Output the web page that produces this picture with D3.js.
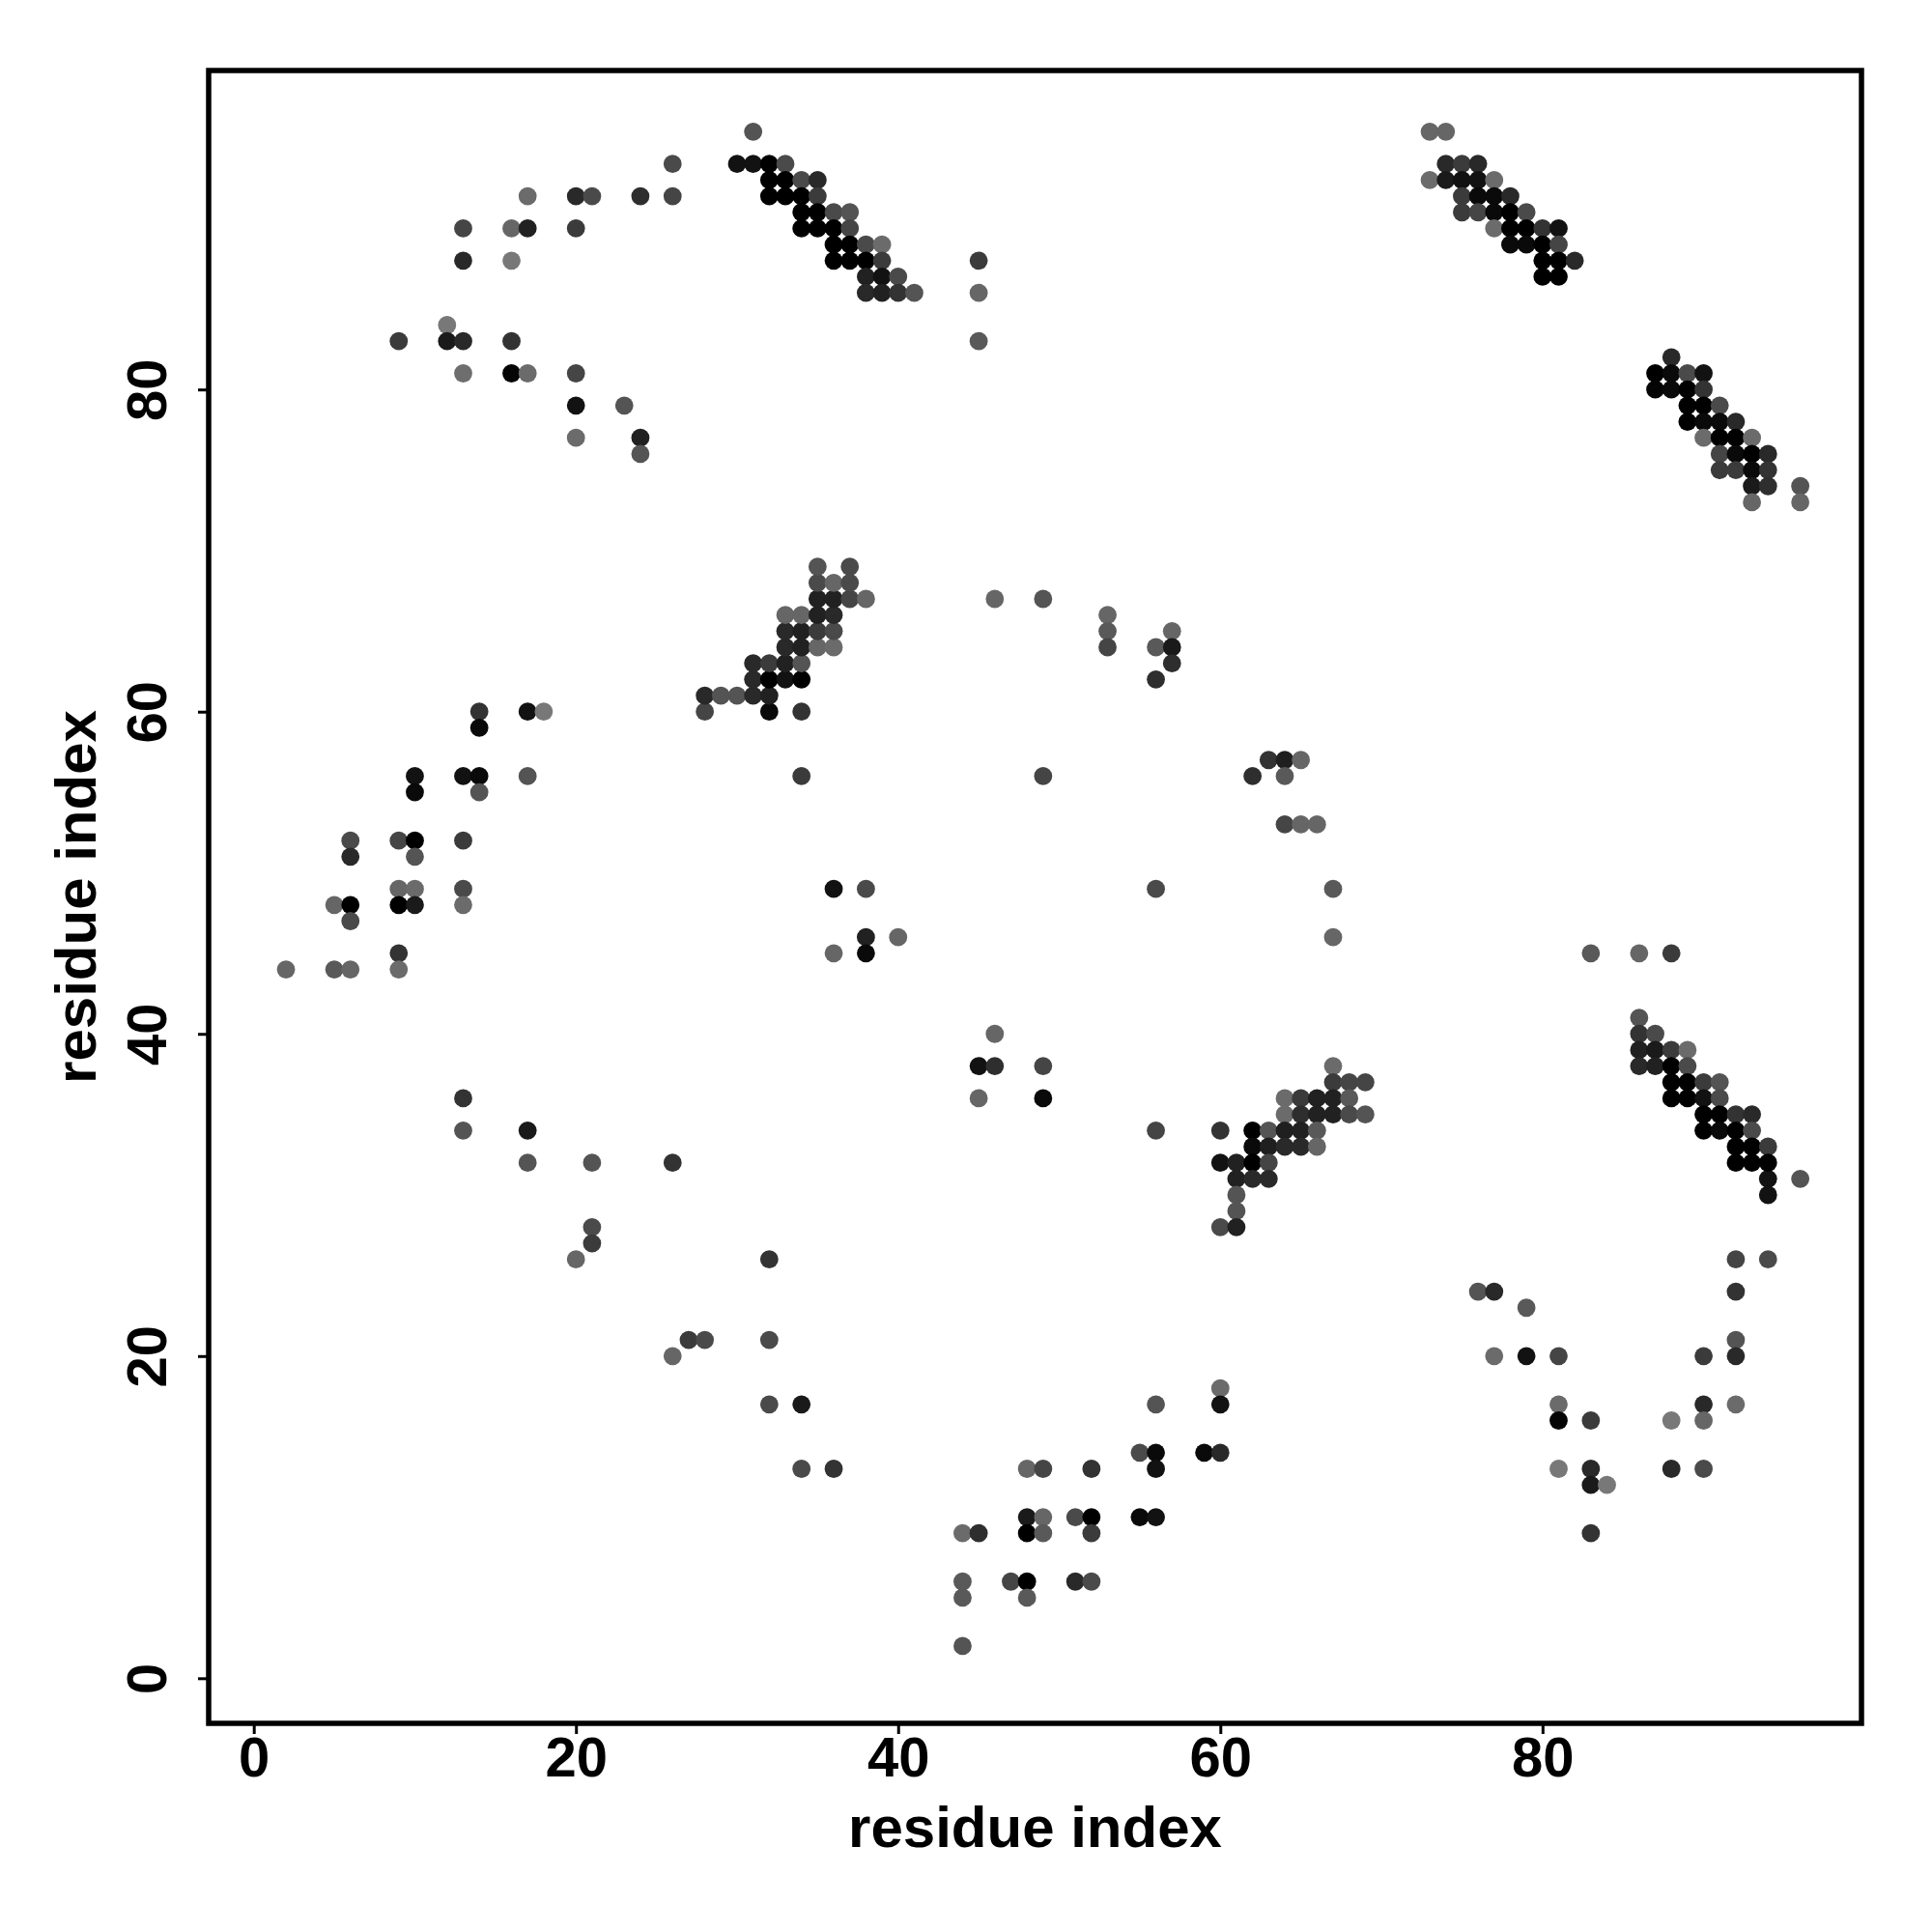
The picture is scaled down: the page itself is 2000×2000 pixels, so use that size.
<!DOCTYPE html>
<html>
<head>
<meta charset="utf-8">
<script src="https://cdn.jsdelivr.net/npm/d3@7"></script>
<style>
  html, body { margin: 0; padding: 0; background: #fff; }
  svg { display: block; }
  text { font-family: "Liberation Sans", Arial, Helvetica, sans-serif; font-weight: bold; }
</style>
</head>
<body>
<script>
// ---- data: [residue i, residue j, contact probability] ----
const topLeftArc = [
  [31,96,.67],[26,94,.71],[30,94,.93],[31,94,.93],[17,92,.58],[20,92,.84],[21,92,.71],
  [24,92,.82],[26,92,.73],[13,90,.73],[16,90,.60],[17,90,.87],[20,90,.77],[13,88,.84],
  [16,88,.53],[12,84,.53],[9,83,.77],[12,83,.90],[13,83,.84],[16,83,.80],[13,81,.57],
  [16,81,.98],[17,81,.58],[20,81,.73],[20,79,.93],[23,79,.67],[20,77,.58],[24,77,.87],
  [24,76,.67]
];
const topBand = [
  [32,94,1],[33,94,.71],
  [32,93,1],[33,93,1],[34,93,.71],[35,93,.84],
  [32,92,1],[33,92,1],[34,92,1],[35,92,.77],
  [34,91,1],[35,91,1],[36,91,.71],[37,91,.67],
  [34,90,1],[35,90,1],[36,90,1],[37,90,.73],
  [36,89,1],[37,89,1],[38,89,.71],[39,89,.58],
  [36,88,1],[37,88,1],[38,88,1],[39,88,.77],[45,88,.77],
  [38,87,.87],[39,87,.93],[40,87,.71],
  [38,86,.84],[39,86,.87],[40,86,.80],[41,86,.67],[45,86,.60],
  [45,83,.65]
];
const midBand = [
  [28,60,.73],[32,60,.96],[34,60,.80],
  [28,61,.84],[29,61,.67],[30,61,.67],[31,61,.84],[32,61,.87],
  [31,62,.84],[32,62,1],[33,62,.93],[34,62,1],
  [31,63,.84],[32,63,.77],[33,63,.87],[34,63,.67],
  [33,64,.84],[34,64,.87],[35,64,.60],[36,64,.58],
  [33,65,.84],[34,65,.87],[35,65,.77],[36,65,.71],
  [33,66,.60],[34,66,.60],[35,66,.87],[36,66,.84],
  [35,67,.87],[36,67,.87],[37,67,.73],[38,67,.60],
  [35,68,.71],[36,68,.60],[37,68,.71],
  [35,69,.67],[37,69,.71]
];
const centreScatter = [
  [46,67,.60],[49,67,.67],[53,66,.60],[53,65,.65],[53,64,.73],[56,64,.65],[57,65,.60],
  [57,64,.90],[57,63,.82],[56,62,.82],
  [34,56,.77],[49,56,.73],[62,56,.82],[63,57,.80],[64,57,.88],[65,57,.60],[64,56,.65],
  [64,53,.73],[65,53,.60],[66,53,.60],
  [36,49,.93],[38,49,.71],[56,49,.71],[67,49,.65],
  [38,46,.87],[40,46,.60],[67,46,.60],[36,45,.60],[38,45,.96],
  [83,45,.65],[86,45,.60],[88,45,.77],
  [46,40,.60],[45,38,.93],[46,38,.82],[49,38,.73],[45,36,.60],[49,36,.96],[56,34,.73]
];
const leftArc = [
  [14,60,.80],[14,59,.96],[17,60,.93],[18,60,.53],
  [10,56,.93],[10,55,.96],[13,56,.93],[14,56,.96],[14,55,.67],[17,56,.67],
  [6,52,.71],[6,51,.84],[9,52,.73],[10,52,1],[10,51,.67],[13,52,.77],
  [9,49,.60],[10,49,.58],[13,49,.71],
  [5,48,.60],[6,48,1],[6,47,.71],[9,48,1],[10,48,.90],[13,48,.58],
  [9,45,.80],
  [2,44,.60],[5,44,.65],[6,44,.60],[9,44,.58],
  [13,36,.80],[13,34,.67],[17,34,.90],[17,32,.67],[21,32,.67],[26,32,.80],
  [21,28,.71],[21,27,.77],[20,26,.60],[27,21,.77],[28,21,.71],[26,20,.60]
];
const lowerBand = [
  [67,38,.58],
  [67,37,.77],[68,37,.73],[69,37,.73],
  [64,36,.58],[65,36,.77],[66,36,.87],[67,36,.87],[68,36,.65],
  [64,35,.58],[65,35,.82],[66,35,.87],[67,35,.87],[68,35,.71],[69,35,.67],
  [60,34,.80],[62,34,1],[63,34,.67],[64,34,.88],[65,34,.87],[66,34,.65],
  [62,33,.96],[63,33,.88],[64,33,.84],[65,33,.84],[66,33,.60],
  [60,32,.93],[61,32,.87],[62,32,1],[63,32,.73],
  [61,31,.87],[62,31,.84],[63,31,.84],
  [61,30,.67],[61,29,.67],[60,28,.71],[61,28,.87]
];
const bottomArc = [
  [32,26,.80],[32,21,.71],[32,17,.71],[34,17,.90],[34,13,.71],[36,13,.80],
  [56,17,.67],[60,18,.58],[60,17,.93],[55,14,.71],[56,14,.96],[56,13,.93],[59,14,.96],[60,14,.84],
  [48,13,.60],[49,13,.73],[52,13,.80],
  [48,10,.90],[49,10,.60],[48,9,1],[49,9,.65],[51,10,.71],[52,10,1],[52,9,.77],[55,10,.96],[56,10,.93],
  [44,9,.58],[45,9,.82],[44,6,.65],[44,5,.65],[47,6,.73],[48,6,1],[48,5,.65],[51,6,.84],[52,6,.71],
  [44,2,.67]
];
const lowerRightArc = [
  [94,31,.93],[96,31,.67],[94,30,.93],
  [92,26,.73],[94,26,.71],[92,24,.80],[76,24,.67],[77,24,.84],[79,23,.65],
  [77,20,.58],[79,20,.93],[81,20,.73],[90,20,.77],[92,21,.67],[92,20,.84],
  [81,17,.58],[81,16,.98],[83,16,.77],[88,16,.53],[90,17,.84],[90,16,.60],[92,17,.58],
  [81,13,.53],[83,13,.84],[83,12,.90],[84,12,.53],[88,13,.84],[90,13,.71],[83,9,.80]
];
const rightBand = [
  [86,41,.67],[86,40,.80],[87,40,.71],
  [86,39,.87],[87,39,.90],[88,39,.77],[89,39,.58],
  [86,38,.84],[87,38,.87],[88,38,1],[89,38,.71],
  [88,37,1],[89,37,1],[90,37,.77],[91,37,.67],
  [88,36,1],[89,36,1],[90,36,.93],[91,36,.71],
  [90,35,1],[91,35,1],[92,35,.80],[93,35,.84],
  [90,34,1],[91,34,.96],[92,34,1],[93,34,.71],
  [92,33,1],[93,33,1],[94,33,.77],
  [92,32,1],[93,32,1],[94,32,1]
];
const topRightBand = [
  [73,96,.60],[74,96,.60],
  [74,94,.84],[75,94,.77],[76,94,.84],
  [73,93,.58],[74,93,.90],[75,93,.93],[76,93,.93],[77,93,.58],
  [75,92,.77],[76,92,.96],[77,92,.96],[78,92,.84],
  [75,91,.77],[76,91,.73],[77,91,.96],[78,91,1],[79,91,.71],
  [77,90,.58],[78,90,1],[79,90,1],[80,90,.80],[81,90,.93],
  [78,89,.96],[79,89,.96],[80,89,1],[81,89,.73],
  [80,88,1],[81,88,1],[82,88,.84],
  [80,87,1],[81,87,1]
];
const rightUpperBand = [
  [88,82,.84],
  [87,81,1],[88,81,.96],[89,81,.71],[90,81,.93],
  [87,80,.98],[88,80,.96],[89,80,1],[90,80,.80],
  [89,79,1],[90,79,1],[91,79,.71],
  [89,78,1],[90,78,.96],[91,78,.96],[92,78,.84],
  [90,77,.58],[91,77,1],[92,77,1],[93,77,.58],
  [91,76,.73],[92,76,.96],[93,76,1],[94,76,.84],
  [91,75,.77],[92,75,.77],[93,75,.96],[94,75,.80],
  [93,74,.90],[94,74,.82],[96,74,.67],
  [93,73,.60],[96,73,.60]
];
const xTicks = [0, 20, 40, 60, 80];
const yTicks = [0, 20, 40, 60, 80];
const axisRange = [1, 96];   // residue range; plot limits padded 4% like R
const xTitle = "residue index";
const yTitle = "residue index";

const contacts = [].concat(topLeftArc, topBand, midBand, centreScatter, leftArc,
  lowerBand, bottomArc, lowerRightArc, rightBand, topRightBand, rightUpperBand);

// ---- layout ----
const W = 2000, H = 2000;
const L = 216, R = 1927, T = 73, B = 1784;
const pad = (axisRange[1] - axisRange[0]) * 0.04;
const dom = [axisRange[0] - pad, axisRange[1] + pad];

const x = d3.scaleLinear().domain(dom).range([L, R]);
const y = d3.scaleLinear().domain(dom).range([B, T]);
const shade = d3.scaleLinear().domain([0, 1]).range(["#ffffff", "#000000"]);

const svg = d3.select("body").append("svg")
  .attr("width", W).attr("height", H).attr("viewBox", `0 0 ${W} ${H}`);
svg.append("rect").attr("width", W).attr("height", H).attr("fill", "#fff");

// points
svg.append("g").selectAll("circle").data(contacts).join("circle")
  .attr("cx", d => x(d[0]))
  .attr("cy", d => y(d[1]))
  .attr("r", 9.4)
  .attr("fill", d => shade(d[2]));

// bottom axis
const gx = svg.append("g").attr("transform", `translate(0,${B})`)
  .call(d3.axisBottom(x).tickValues(xTicks).tickSize(11).tickPadding(3).tickFormat(d3.format("d")));
gx.select(".domain").remove();
gx.selectAll(".tick line").attr("stroke", "#000").attr("stroke-width", 3);
gx.selectAll(".tick text").attr("fill", "#000").style("font-size", "58px")
  .style("font-family", "'Liberation Sans', Arial, sans-serif").style("font-weight", "bold");

// left axis
const gy = svg.append("g").attr("transform", `translate(${L},0)`)
  .call(d3.axisLeft(y).tickValues(yTicks).tickSize(11).tickFormat(d3.format("d")));
gy.select(".domain").remove();
gy.selectAll(".tick line").attr("stroke", "#000").attr("stroke-width", 3);
gy.selectAll(".tick text")
  .attr("x", 0).attr("dy", 0)
  .attr("text-anchor", "middle")
  .attr("transform", `translate(${172 - L},0) rotate(-90)`)
  .attr("fill", "#000").style("font-size", "58px")
  .style("font-family", "'Liberation Sans', Arial, sans-serif").style("font-weight", "bold");

// box
svg.append("rect")
  .attr("x", L).attr("y", T).attr("width", R - L).attr("height", B - T)
  .attr("fill", "none").attr("stroke", "#000").attr("stroke-width", 5.5);

// titles
svg.append("text")
  .attr("x", (L + R) / 2).attr("y", 1912)
  .attr("text-anchor", "middle").style("font-size", "60px")
  .text(xTitle);
svg.append("text")
  .attr("transform", `translate(99,${(T + B) / 2}) rotate(-90)`)
  .attr("text-anchor", "middle").style("font-size", "60px")
  .text(yTitle);
</script>
</body>
</html>
